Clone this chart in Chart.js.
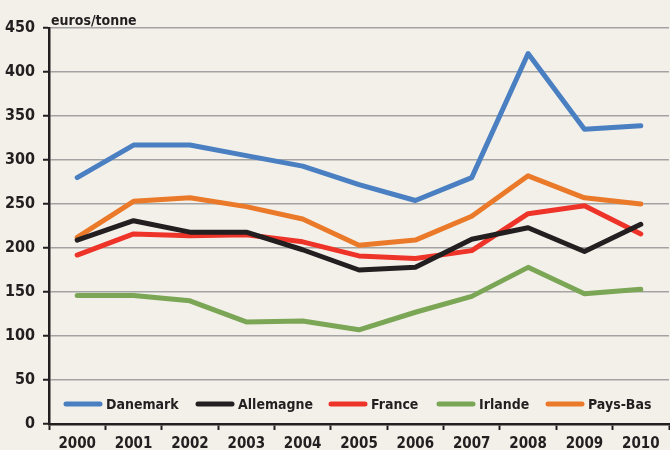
<!DOCTYPE html>
<html><head><meta charset="utf-8">
<script src="https://cdn.jsdelivr.net/npm/chart.js@4.4.1/dist/chart.umd.min.js"></script>
<style>html,body{margin:0;padding:0;background:#f3f0ea;}#wrap{width:670px;height:450px;}</style>
</head><body><div id="wrap"><canvas id="c" width="670" height="450"></canvas></div>
<script>
const years = ['2000','2001','2002','2003','2004','2005','2006','2007','2008','2009','2010'];
const danemark  = [280, 317, 317, 305, 293, 272, 254, 280, 421, 335, 339];
const allemagne = [209, 231, 218, 218, 198, 175, 178, 210, 223, 196, 227];
const france    = [192, 216, 214, 215, 207, 191, 188, 197, 239, 248, 216];
const irlande   = [146, 146, 140, 116, 117, 107, 127, 145, 178, 148, 153];
const paysBas   = [212, 253, 257, 247, 233, 203, 209, 236, 282, 257, 250];
const seriesNames = ['Danemark','Allemagne','France','Irlande','Pays-Bas'];
const yTicks = [0,50,100,150,200,250,300,350,400,450];
const unitLabel = 'euros/tonne';

const colors = ['#4a7fc1','#231f20','#ee3429','#7ba656','#ea7a2a'];
const FONT = '"Liberation Sans Narrow", "DejaVu Sans Condensed", sans-serif';
const dataArr = [danemark, allemagne, france, irlande, paysBas];

const legendPlugin = {
  id: 'customLegend',
  afterDraw(chart) {
    const ctx = chart.ctx;
    const xs = [66, 198, 331, 439, 548];
    const y = 404;
    ctx.save();
    ctx.font = 'bold 14px ' + FONT;
    ctx.textBaseline = 'middle';
    chart.data.datasets.forEach((ds, i) => {
      ctx.strokeStyle = ds.borderColor;
      ctx.lineWidth = 5;
      ctx.lineCap = 'round';
      ctx.beginPath();
      ctx.moveTo(xs[i], y);
      ctx.lineTo(xs[i] + 34, y);
      ctx.stroke();
      ctx.fillStyle = '#231f20';
      ctx.fillText(ds.label, xs[i] + 40, y + 1);
    });
    ctx.font = 'bold 14px ' + FONT;
    ctx.textBaseline = 'alphabetic';
    ctx.fillText(unitLabel, 51, 25);
    ctx.restore();
  }
};
const bgPlugin = {
  id: 'bg',
  beforeDraw(chart) {
    const ctx = chart.ctx;
    ctx.save();
    ctx.fillStyle = '#f3f0ea';
    ctx.fillRect(0, 0, chart.width, chart.height);
    ctx.restore();
  }
};

new Chart(document.getElementById('c'), {
  type: 'line',
  data: {
    labels: years,
    datasets: seriesNames.map((n, i) => ({
      label: n,
      data: dataArr[i],
      borderColor: colors[i],
      backgroundColor: colors[i],
      borderWidth: 5,
      pointRadius: 0,
      borderCapStyle: 'round',
      borderJoinStyle: 'round',
      tension: 0,
      fill: false
    }))
  },
  options: {
    responsive: false,
    animation: false,
    devicePixelRatio: 1,
    layout: { padding: { top: 28, right: 1, left: 0, bottom: 0 } },
    plugins: { legend: { display: false }, tooltip: { enabled: false } },
    scales: {
      x: {
        offset: true,
        grid: { offset: true, drawOnChartArea: false, drawTicks: true, tickLength: 6, tickColor: '#231f20', tickWidth: 2 },
        border: { color: '#231f20', width: 2.5 },
        ticks: { color: '#231f20', font: { family: FONT, size: 15, weight: 'bold' }, padding: 5, maxRotation: 0, autoSkip: false },
        afterFit(s) { s.height = 26; }
      },
      y: {
        min: 0, max: 450,
        afterBuildTicks(s) { s.ticks = yTicks.map(v => ({ value: v })); },
        grid: { color: (c) => c.tick && c.tick.value === 0 ? 'rgba(0,0,0,0)' : '#a3a3a3', lineWidth: 1.5, tickLength: 6, tickColor: '#231f20', tickWidth: 2 },
        border: { color: '#231f20', width: 2.5 },
        ticks: { color: '#231f20', font: { family: FONT, size: 16, weight: 'bold' }, padding: 8 },
        afterFit(s) { s.width = 49; }
      }
    }
  },
  plugins: [bgPlugin, legendPlugin]
});
</script></body></html>
